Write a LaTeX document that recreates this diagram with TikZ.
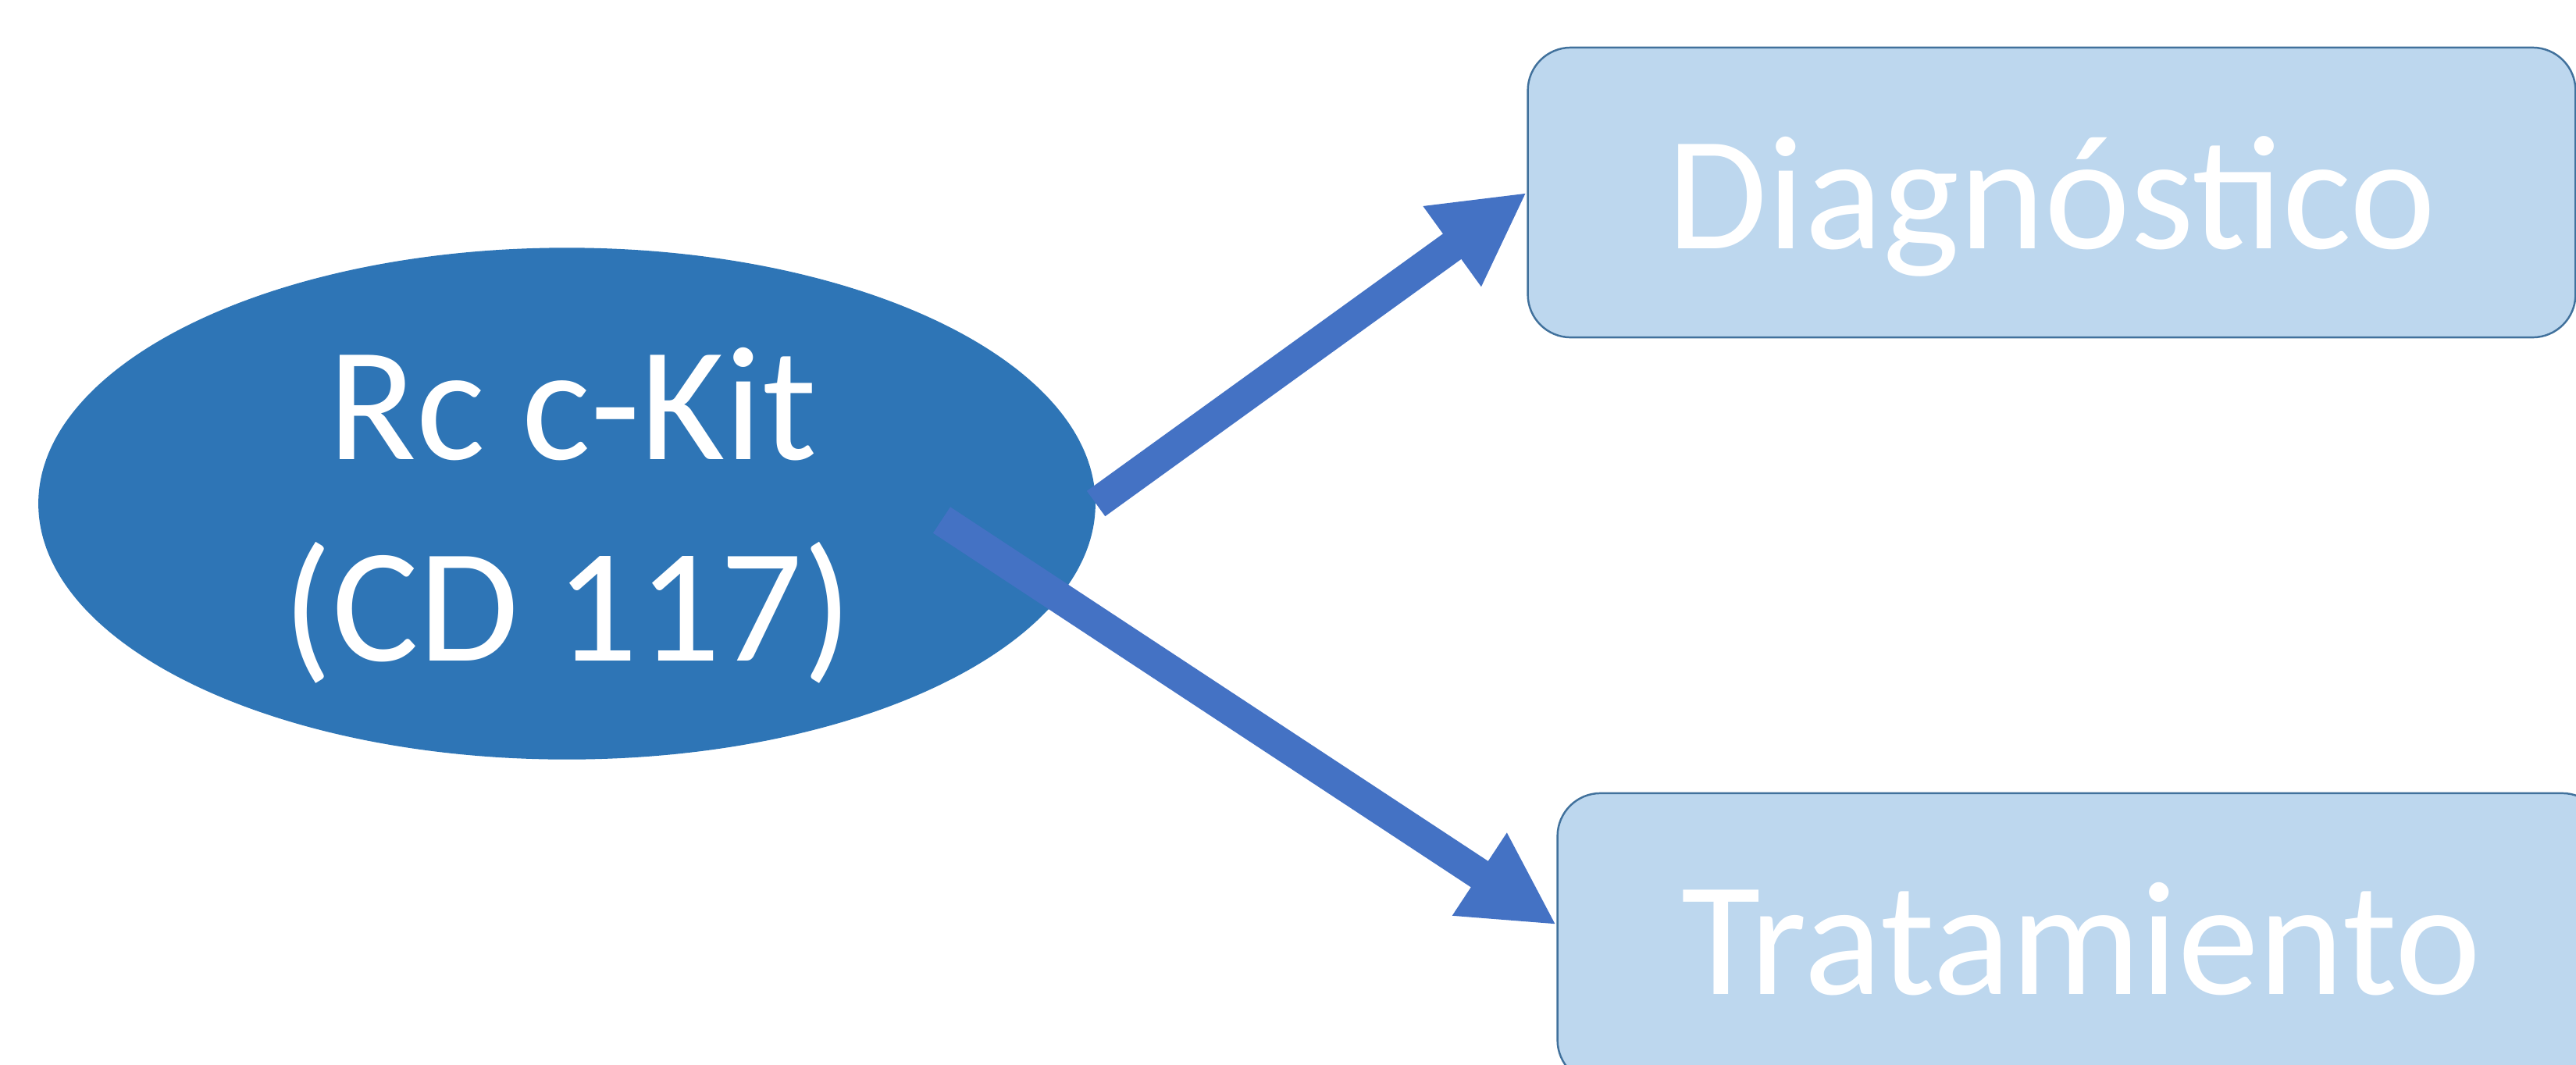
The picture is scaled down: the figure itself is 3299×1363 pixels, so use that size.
\documentclass[tikz,border=0pt]{standalone}
\usepackage{fontspec}
\setmainfont{Carlito}
\usetikzlibrary{shapes.geometric,arrows.meta,calc}
\definecolor{ellblue}{HTML}{2E75B6}
\definecolor{arrowblue}{HTML}{4472C4}
\definecolor{boxfill}{HTML}{BDD7EE}
\definecolor{boxline}{HTML}{41719C}
\newcommand{\bigfont}{\fontsize{59.2pt}{73.4pt}\selectfont}
\tikzset{
  ellnode/.style={ellipse, fill=ellblue, draw=none, minimum width=13.53cm, minimum height=6.55cm, inner sep=0pt},
  lbl/.style={text=white, font=\bigfont, inner sep=0pt, anchor=base},
  box/.style={draw=boxline, line width=0.7pt, fill=boxfill, rounded corners=0.55cm,
    minimum width=13.41cm, minimum height=3.71cm, inner sep=0pt,
    text height=1.44cm, text depth=0pt, text=white, font=\bigfont},
  conn/.style={draw=arrowblue, line width=0.4cm, -{Triangle[length=1.18cm,width=1.18cm]}}
}
\begin{document}
\begin{tikzpicture}[x=0.01cm,y=-0.01cm]
\useasboundingbox (0,0) rectangle (3299,1363);
\clip (0,0) rectangle (3299,1363);
\node[ellnode] (rc) at (726,645) {};
\node[lbl] (rc1) at (733,588) {Rc c-Kit};
\node[lbl] (rc2) at (727,846) {(CD 117)};
\node[box] (dg) at (2627.5,246.5) {Diagnóstico};
\node[box] (tr) at (2665.5,1201.5) {Tratamiento};
\coordinate (t2) at ($(rc.center)+(480,21)$);
\coordinate (h2) at ($(tr.west)+(0,-17)$);
\draw[conn] (rc.east) -- (dg.west);
\draw[conn] (t2) -- (h2);
\end{tikzpicture}
\end{document}
